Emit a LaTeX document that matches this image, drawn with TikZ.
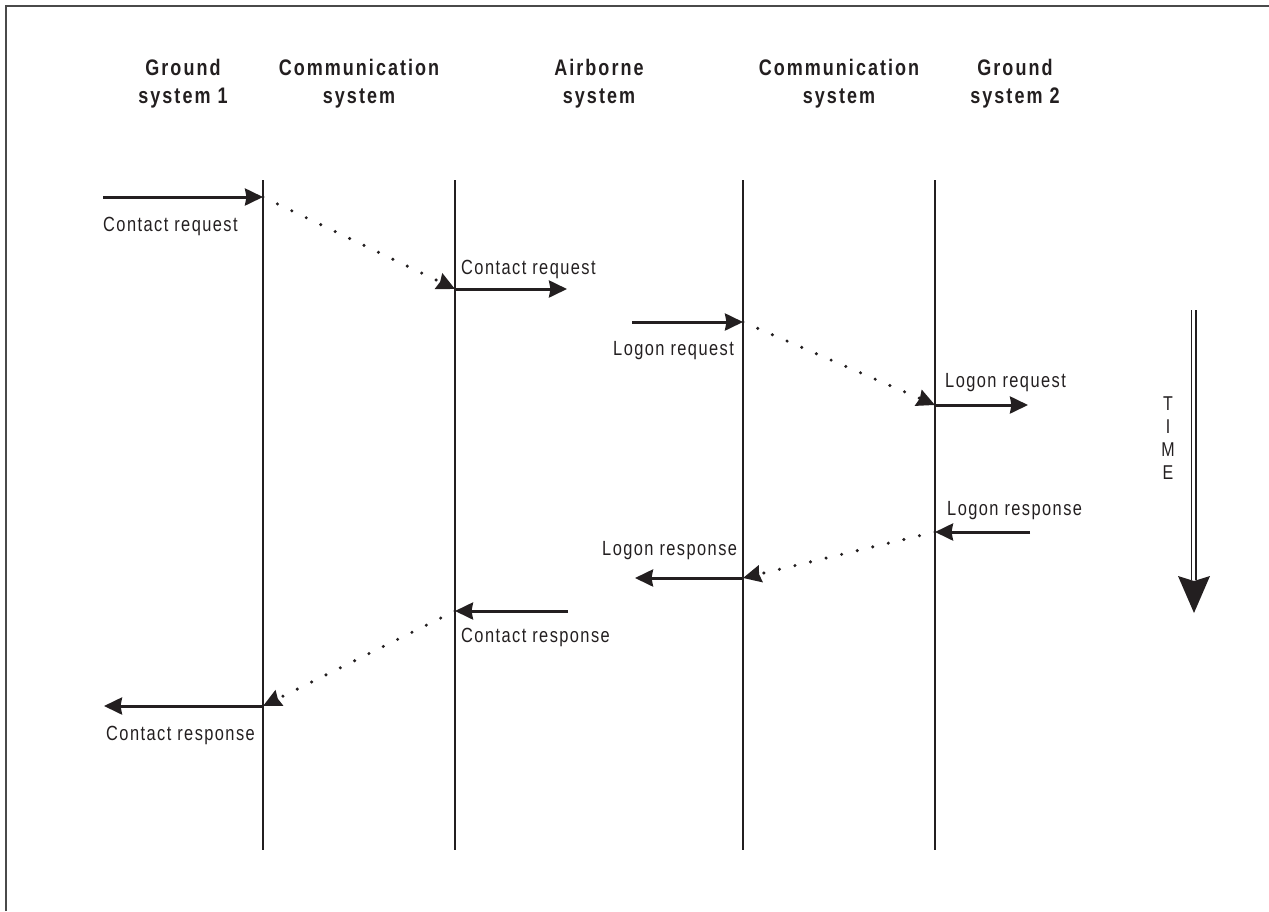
\documentclass[tikz,border=0pt]{standalone}
\usepackage{fontspec}
\usetikzlibrary{arrows.meta}
\newfontfamily\lblfont[FakeStretch=0.80,LetterSpace=7]{Liberation Sans}
\newfontfamily\hdrfont[FakeStretch=0.80,LetterSpace=9]{Liberation Sans}
\definecolor{ink}{HTML}{231F20}
\definecolor{frame}{HTML}{4A4A4A}

\begin{document}
\begin{tikzpicture}[x=1pt,y=-1pt,
  header/.style={align=center,inner sep=0pt,anchor=north,text=ink,
    font=\hdrfont\bfseries\fontsize{22.5}{27.5}\selectfont},
  msglabel/.style={inner sep=0pt,anchor=base west,text=ink,
    font=\lblfont\fontsize{20.5}{24}\selectfont},
  lifeline/.style={line width=1.6pt,draw=ink},
  tip/.style={-{Stealth[length=18pt,width=17pt,inset=1.5pt]}},
  msg/.style={line width=3pt,draw=ink,tip},
  relay/.style={line width=3.4pt,draw=ink,line cap=round,
    dash pattern=on 0pt off 16pt,tip},
]
\useasboundingbox (0,0) rectangle (1269,911);

% frame along the top and left edges
\coordinate (fc) at (6,5.5);
\coordinate (fr) at (1269,5.5);
\coordinate (fb) at (6,911);
\draw[frame,line width=2pt] (fb) -- (fc) -- (fr);

% column headings
\node[header] (h1) at (183,59) {Ground\\system 1};
\node[header] (h2) at (359,59) {Communication\\system};
\node[header] (h3) at (599,59) {Airborne\\system};
\node[header] (h4) at (839,59) {Communication\\system};
\node[header] (h5) at (1015,59) {Ground\\system 2};

% lifelines
\foreach \n/\x in {1/263,2/455,3/743,4/935}{
  \coordinate (t\n) at (\x,180);
  \coordinate (b\n) at (\x,850);
  \draw[lifeline] (t\n) -- (b\n);
}

% message events
\coordinate (a0) at (103,197);
\coordinate (a1) at (263,197);
\coordinate (a2) at (455,289);
\coordinate (a3) at (567,289);
\coordinate (c0) at (632,322);
\coordinate (c1) at (743,322);
\coordinate (c2) at (935,405);
\coordinate (c3) at (1028,405);
\coordinate (e0) at (1030,532);
\coordinate (e1) at (935,532);
\coordinate (e2) at (743,578);
\coordinate (e3) at (635,578);
\coordinate (g0) at (568,611);
\coordinate (g1) at (455,611);
\coordinate (g2) at (263,706);
\coordinate (g3) at (104,706);

% contact request
\draw[msg] (a0) -- (a1);
\draw[relay] (a1) -- (a2);
\draw[msg] (a2) -- (a3);
\node[msglabel] (la0) at (103,231) {Contact request};
\node[msglabel] (la3) at (461,274) {Contact request};

% logon request
\draw[msg] (c0) -- (c1);
\draw[relay] (c1) -- (c2);
\draw[msg] (c2) -- (c3);
\node[msglabel] (lc0) at (613,355) {Logon request};
\node[msglabel] (lc3) at (945,387) {Logon request};

% logon response
\draw[msg] (e0) -- (e1);
\draw[relay] (e1) -- (e2);
\draw[msg] (e2) -- (e3);
\node[msglabel] (le0) at (947,515) {Logon response};
\node[msglabel] (le3) at (602,555) {Logon response};

% contact response
\draw[msg] (g0) -- (g1);
\draw[relay] (g1) -- (g2);
\draw[msg] (g2) -- (g3);
\node[msglabel] (lg0) at (461,642) {Contact response};
\node[msglabel] (lg3) at (106,740) {Contact response};

% time axis
\coordinate (ta) at (1191.5,310);
\coordinate (tb) at (1191.5,580);
\coordinate (tc) at (1196,310);
\coordinate (td) at (1196,580);
\draw[ink,line width=1.2pt] (ta) -- (tb);
\draw[ink,line width=2.2pt] (tc) -- (td);
\coordinate (hl) at (1178,576);
\coordinate (hm) at (1194,581);
\coordinate (hr) at (1210,576);
\coordinate (ht) at (1194,613);
\fill[ink] (hl) -- (hm) -- (hr) -- (ht) -- cycle;
\node[inner sep=0pt,anchor=north,align=center,text=ink,
  font=\lblfont\fontsize{20}{23}\selectfont] (time) at (1168,397) {T\\I\\M\\E};

\end{tikzpicture}
\end{document}
